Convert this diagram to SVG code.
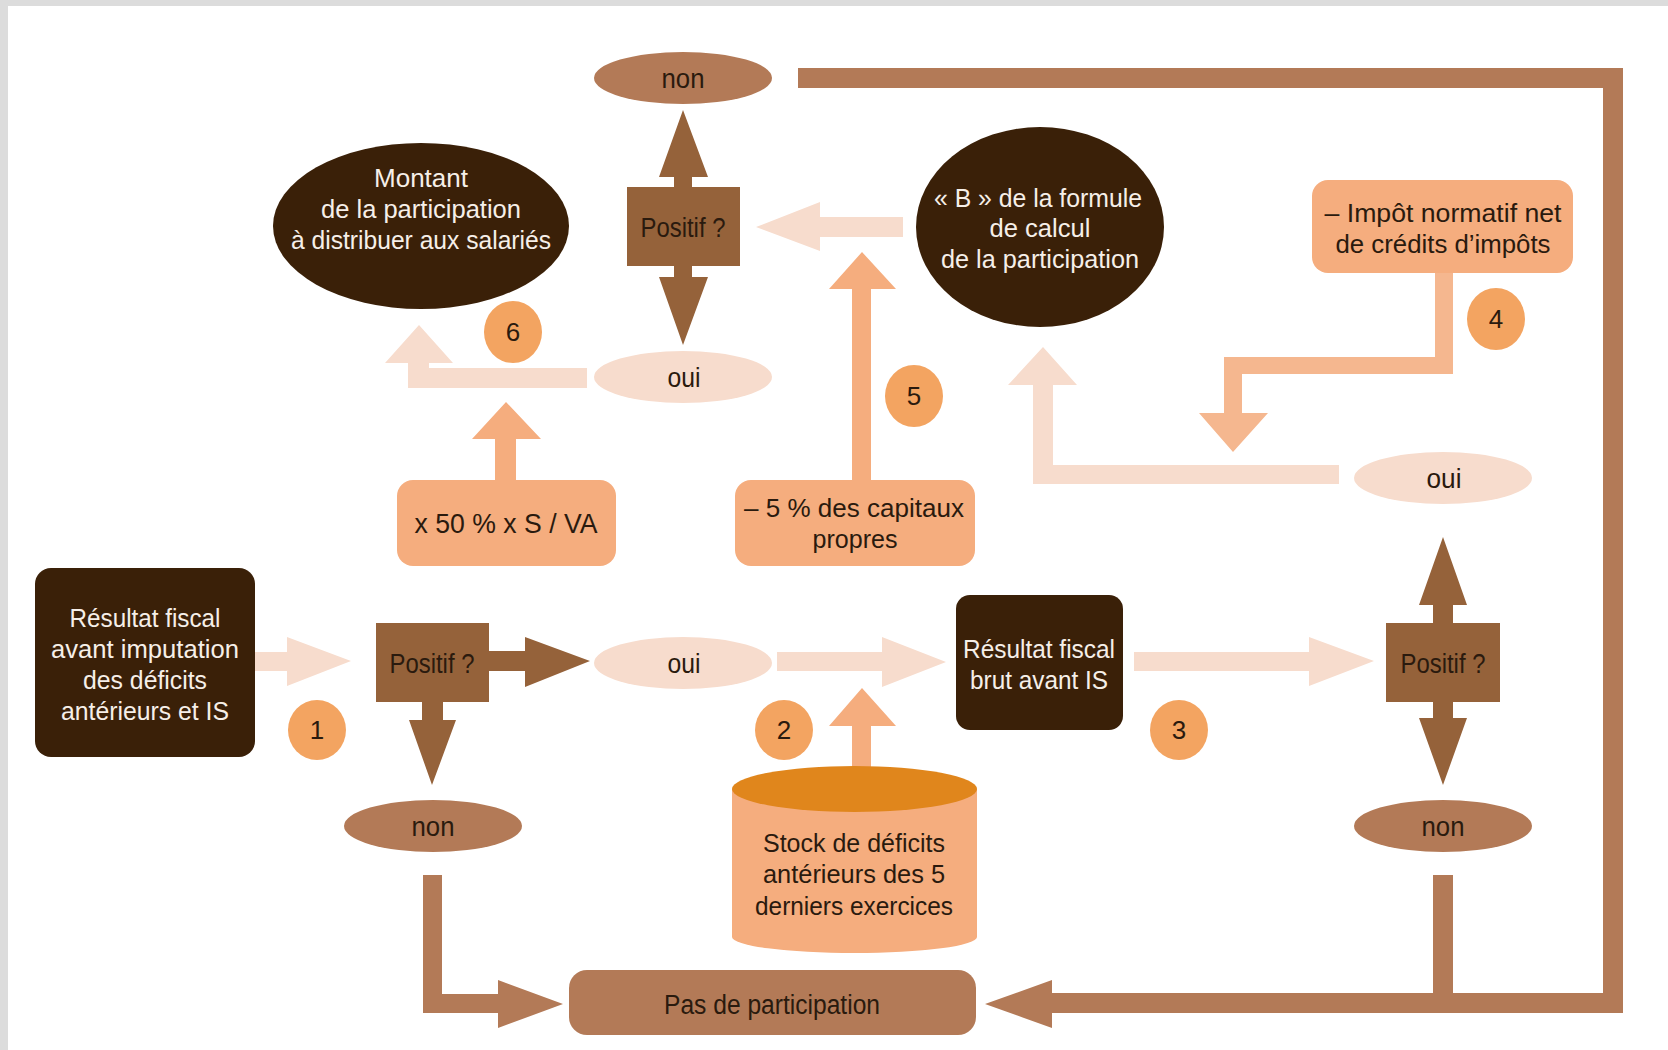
<svg xmlns="http://www.w3.org/2000/svg" width="1668" height="1050" viewBox="0 0 1668 1050">
<style>
text{font-family:"Liberation Sans Narrow","Liberation Sans",Arial,sans-serif;font-size:26px;text-anchor:middle}
.one{font-size:27px}
.w{fill:#f6efe8}
.d{fill:#2a1a0e}
.num{font-size:26px;fill:#2a1a0e;font-family:"Liberation Sans",Arial,sans-serif}
.dark{fill:#3a2008}
.pos{fill:#95623a}
.brn{fill:#b37a57}
.lt{fill:#f7dccd}
.org{fill:#f5ad7e}
.org2{fill:#f5b78f}
.circ{fill:#f3a461}
</style>
<rect x="0" y="0" width="1668" height="1050" fill="#ffffff"/>
<rect x="0" y="0" width="1668" height="6" fill="#dcdcdc"/>
<rect x="0" y="0" width="8" height="1050" fill="#dcdcdc"/>

<g id="connectors">
  <polygon class="lt" points="255,652 287,652 287,637 351,661 287,686 287,671 255,671"/>
  <polygon class="pos" points="489,651 525,651 525,637 590,661 525,687 525,671 489,671"/>
  <polygon class="pos" points="422,702 443,702 443,720 456,720 432,785 409,720 422,720"/>
  <polygon class="brn" points="423,875 442,875 442,994 498,994 498,980 563,1004 498,1028 498,1013 423,1013"/>
  <polygon class="lt" points="777,652 882,652 882,637 946,662 882,687 882,671 777,671"/>
  <polygon class="org" points="852,775 852,726 829,726 862,688 896,726 871,726 871,775"/>
  <polygon class="lt" points="1134,652 1309,652 1309,637 1374,661 1309,686 1309,671 1134,671"/>
  <polygon class="pos" points="1433,623 1433,605 1419,605 1443,537 1467,605 1453,605 1453,623"/>
  <polygon class="pos" points="1433,702 1453,702 1453,718 1467,718 1443,785 1419,718 1433,718"/>
  <rect class="brn" x="1433" y="875" width="20" height="128"/>
  <polygon class="brn" points="798,68 1623,68 1623,1013 1052,1013 1052,1028 985,1004 1052,980 1052,993 1603,993 1603,88 798,88"/>
  <polygon class="lt" points="1339,465 1339,484 1033,484 1033,385 1008,385 1043,347 1077,385 1053,385 1053,465"/>
  <polygon class="org2" points="1435,273 1453,273 1453,374 1242,374 1242,413 1268,413 1233,452 1199,413 1224,413 1224,357 1435,357"/>
  <polygon class="org" points="852,480 852,289 829,289 862,252 896,289 871,289 871,480"/>
  <polygon class="lt" points="903,217 820,217 820,202 756,227 820,251 820,237 903,237"/>
  <polygon class="pos" points="674,187 674,177 659,177 683,110 708,177 692,177 692,187"/>
  <polygon class="pos" points="674,266 692,266 692,277 708,277 683,345 659,277 674,277"/>
  <polygon class="org" points="495,480 495,439 472,439 506,402 541,439 516,439 516,480"/>
  <polygon class="lt" points="587,368 587,388 408,388 408,363 385,363 419,325 453,363 429,363 429,368"/>
</g>

<g id="n-resultat-fiscal">
  <rect class="dark" x="35" y="568" width="220" height="189" rx="16"/>
  <text class="w" x="145" y="627" textLength="151" lengthAdjust="spacingAndGlyphs">Résultat fiscal</text>
  <text class="w" x="145" y="658" textLength="188" lengthAdjust="spacingAndGlyphs">avant imputation</text>
  <text class="w" x="145" y="689" textLength="124" lengthAdjust="spacingAndGlyphs">des déficits</text>
  <text class="w" x="145" y="720" textLength="168" lengthAdjust="spacingAndGlyphs">antérieurs et IS</text>
</g>
<g id="n-num1">
  <ellipse class="circ" cx="317" cy="730" rx="29" ry="30"/>
  <text class="num" x="317" y="739">1</text>
</g>
<g id="n-positif-1">
  <rect class="pos" x="376" y="623" width="113" height="79"/>
  <text class="d one" x="432" y="673" textLength="85" lengthAdjust="spacingAndGlyphs">Positif ?</text>
</g>
<g id="n-non-1">
  <ellipse class="brn" cx="433" cy="826" rx="89" ry="26"/>
  <text class="d one" x="433" y="836" textLength="43" lengthAdjust="spacingAndGlyphs">non</text>
</g>
<g id="n-oui-1">
  <ellipse class="lt" cx="683" cy="663" rx="89" ry="26"/>
  <text class="d one" x="684" y="673" textLength="33" lengthAdjust="spacingAndGlyphs">oui</text>
</g>
<g id="n-num2">
  <ellipse class="circ" cx="784" cy="730" rx="29" ry="30"/>
  <text class="num" x="784" y="739">2</text>
</g>
<g id="n-stock">
  <path class="org" d="M732,789 L732,937 A122.5,16 0 0 0 977,937 L977,789 Z"/>
  <ellipse cx="854.5" cy="789" rx="122.5" ry="23" fill="#e0861c"/>
  <text class="d" x="854" y="852" textLength="182" lengthAdjust="spacingAndGlyphs">Stock de déficits</text>
  <text class="d" x="854" y="883" textLength="182" lengthAdjust="spacingAndGlyphs">antérieurs des 5</text>
  <text class="d" x="854" y="915" textLength="198" lengthAdjust="spacingAndGlyphs">derniers exercices</text>
</g>
<g id="n-resultat-brut">
  <rect class="dark" x="956" y="595" width="167" height="135" rx="14"/>
  <text class="w" x="1039" y="658" textLength="152" lengthAdjust="spacingAndGlyphs">Résultat fiscal</text>
  <text class="w" x="1039" y="689" textLength="138" lengthAdjust="spacingAndGlyphs">brut avant IS</text>
</g>
<g id="n-num3">
  <ellipse class="circ" cx="1179" cy="730" rx="29" ry="30"/>
  <text class="num" x="1179" y="739">3</text>
</g>
<g id="n-positif-2">
  <rect class="pos" x="1386" y="623" width="114" height="79"/>
  <text class="d one" x="1443" y="673" textLength="85" lengthAdjust="spacingAndGlyphs">Positif ?</text>
</g>
<g id="n-non-2">
  <ellipse class="brn" cx="1443" cy="826" rx="89" ry="26"/>
  <text class="d one" x="1443" y="836" textLength="43" lengthAdjust="spacingAndGlyphs">non</text>
</g>
<g id="n-oui-2">
  <ellipse class="lt" cx="1443" cy="478" rx="89" ry="26"/>
  <text class="d one" x="1444" y="488" textLength="35" lengthAdjust="spacingAndGlyphs">oui</text>
</g>
<g id="n-impot">
  <rect class="org" x="1312" y="180" width="261" height="93" rx="16"/>
  <text class="d" x="1443" y="222" textLength="237" lengthAdjust="spacingAndGlyphs">– Impôt normatif net</text>
  <text class="d" x="1443" y="253" textLength="215" lengthAdjust="spacingAndGlyphs">de crédits d’impôts</text>
</g>
<g id="n-num4">
  <ellipse class="circ" cx="1496" cy="319" rx="29" ry="31"/>
  <text class="num" x="1496" y="328">4</text>
</g>
<g id="n-b">
  <ellipse class="dark" cx="1040" cy="227" rx="124" ry="100"/>
  <text class="w" x="1038" y="207" textLength="208" lengthAdjust="spacingAndGlyphs">« B » de la formule</text>
  <text class="w" x="1040" y="237" textLength="101" lengthAdjust="spacingAndGlyphs">de calcul</text>
  <text class="w" x="1040" y="268" textLength="198" lengthAdjust="spacingAndGlyphs">de la participation</text>
</g>
<g id="n-capitaux">
  <rect class="org" x="735" y="480" width="240" height="86" rx="16"/>
  <text class="d" x="854" y="517" textLength="220" lengthAdjust="spacingAndGlyphs">– 5 % des capitaux</text>
  <text class="d" x="855" y="548" textLength="85" lengthAdjust="spacingAndGlyphs">propres</text>
</g>
<g id="n-num5">
  <ellipse class="circ" cx="914" cy="396" rx="29" ry="31"/>
  <text class="num" x="914" y="405">5</text>
</g>
<g id="n-positif-top">
  <rect class="pos" x="627" y="187" width="113" height="79"/>
  <text class="d one" x="683" y="237" textLength="85" lengthAdjust="spacingAndGlyphs">Positif ?</text>
</g>
<g id="n-non-top">
  <ellipse class="brn" cx="683" cy="78" rx="89" ry="26"/>
  <text class="d one" x="683" y="88" textLength="43" lengthAdjust="spacingAndGlyphs">non</text>
</g>
<g id="n-oui-top">
  <ellipse class="lt" cx="683" cy="377" rx="89" ry="26"/>
  <text class="d one" x="684" y="387" textLength="33" lengthAdjust="spacingAndGlyphs">oui</text>
</g>
<g id="n-x50">
  <rect class="org" x="397" y="480" width="219" height="86" rx="16"/>
  <text class="d one" x="506" y="533" textLength="183" lengthAdjust="spacingAndGlyphs">x 50 % x S / VA</text>
</g>
<g id="n-num6">
  <ellipse class="circ" cx="513" cy="332" rx="29" ry="31"/>
  <text class="num" x="513" y="341">6</text>
</g>
<g id="n-montant">
  <ellipse class="dark" cx="421" cy="226" rx="148" ry="83"/>
  <text class="w" x="421" y="187" textLength="94" lengthAdjust="spacingAndGlyphs">Montant</text>
  <text class="w" x="421" y="218" textLength="200" lengthAdjust="spacingAndGlyphs">de la participation</text>
  <text class="w" x="421" y="249" textLength="260" lengthAdjust="spacingAndGlyphs">à distribuer aux salariés</text>
</g>
<g id="n-pas">
  <rect class="brn" x="569" y="970" width="407" height="65" rx="18"/>
  <text class="d one" x="772" y="1014" textLength="216" lengthAdjust="spacingAndGlyphs">Pas de participation</text>
</g>
</svg>
